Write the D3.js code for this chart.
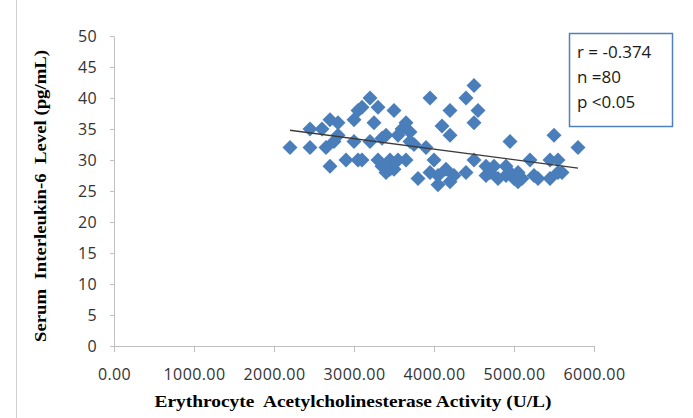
<!DOCTYPE html>
<html>
<head>
<meta charset="utf-8">
<script src="https://cdn.jsdelivr.net/npm/d3@7"></script>
<style>
  body { margin: 0; background: #fff; }
  svg { display: block; }
</style>
</head>
<body>
<div id="chart"></div>
<script>
// Erythrocyte AChE activity (U/L) vs serum IL-6 (pg/mL)
const aChE = [
  2200, 2450, 2450, 2600, 2650, 2700, 2700, 2750, 2800, 2800,
  2900, 3000, 3000, 3050, 3050, 3100, 3200, 3200, 3250, 3300,
  3300, 3350, 3350, 3400, 3400, 3450, 3450, 3500, 3550, 3550,
  3600, 3650, 3650, 3700, 3700, 3750, 3800, 3900, 3950, 3950,
  4000, 4050, 4050, 4100, 4150, 4200, 4200, 4200, 4250, 4400,
  4400, 4500, 4500, 4500, 4550, 4650, 4650, 4700, 4750, 4800,
  4900, 4950, 4950, 5000, 5050, 5050, 5100, 5200, 5250, 5300,
  5450, 5450, 5500, 5550, 5550, 5600, 5800, 3100, 3500, 4900
];
const il6 = [
  32, 32, 35, 35, 32, 36.5, 29, 33, 34, 36,
  30, 36.5, 33, 38, 30, 38.5, 40, 33, 36, 38.5,
  30, 33.5, 29, 34, 28, 30, 28.5, 38, 34, 30,
  35, 36, 30, 34.5, 33, 32.5, 27, 32, 40, 28,
  30, 27.5, 26, 35.5, 28.5, 34, 38, 26.5, 27.5, 40,
  28, 42, 36, 30, 38, 29, 27.5, 28, 29, 27,
  27.5, 33, 28, 27, 28, 26.5, 27, 30, 27.5, 27,
  30, 27, 34, 30, 28, 28, 32, 30, 28.5, 29
];

// Linear trendline end points (x, y)
const trendX = [2200, 5800];
const trendY = [34.8, 28.7];

const xTicks = [0, 1000, 2000, 3000, 4000, 5000, 6000];
const yTicks = [0, 5, 10, 15, 20, 25, 30, 35, 40, 45, 50];

const statLines = ["r = -0.374", "n =80", "p <0.05"];

const xTitle = "Erythrocyte  Acetylcholinesterase Activity (U/L)";
const yTitle = "Serum  Interleukin-6  Level (pg/mL)";

const width = 693;
const height = 418;
const plot = { left: 114, right: 594, top: 36, bottom: 346 };

const svg = d3.select("#chart")
  .append("svg")
  .attr("width", width)
  .attr("height", height);

// thin frame line on the left edge of the chart area
svg.append("line")
  .attr("x1", 16.5).attr("x2", 16.5)
  .attr("y1", 0).attr("y2", height)
  .attr("stroke", "#d0d0d0")
  .attr("stroke-width", 1);

const xScale = d3.scaleLinear().domain([0, 6000]).range([plot.left, plot.right]);
const yScale = d3.scaleLinear().domain([0, 50]).range([plot.bottom, plot.top]);

const tickFont = "'Open Sans', 'Liberation Sans', sans-serif";

// axes
const xAxis = d3.axisBottom(xScale)
  .tickValues(xTicks)
  .tickFormat(d3.format(".2f"))
  .tickSize(6)
  .tickSizeOuter(0);

const yAxis = d3.axisLeft(yScale)
  .tickValues(yTicks)
  .tickFormat(d3.format("d"))
  .tickSize(4)
  .tickSizeOuter(0);

const gx = svg.append("g")
  .attr("transform", `translate(0, ${plot.bottom})`)
  .call(xAxis);

const gy = svg.append("g")
  .attr("transform", `translate(${plot.left}, 0)`)
  .call(yAxis);

[gx, gy].forEach(g => {
  g.select(".domain").attr("stroke", "#bfbfbf").attr("stroke-width", 1);
  g.selectAll(".tick line").attr("stroke", "#bfbfbf");
  g.selectAll(".tick text")
    .attr("fill", "#333")
    .style("font-family", tickFont)
    .style("font-size", "16px")
    .style("letter-spacing", "0.4px");
});

gx.selectAll(".tick text").attr("y", 34).attr("dy", 0);
gy.selectAll(".tick text").attr("x", -17).attr("dy", "0.35em");

// axis titles
svg.append("text")
  .attr("x", 353)
  .attr("y", 407)
  .attr("text-anchor", "middle")
  .style("font-family", "'Liberation Serif', 'Times New Roman', serif")
  .style("font-weight", "bold")
  .style("font-size", "17px")
  .style("white-space", "pre")
  .attr("textLength", 397)
  .attr("lengthAdjust", "spacingAndGlyphs")
  .text(xTitle);

svg.append("text")
  .attr("transform", "translate(46, 196) rotate(-90)")
  .attr("text-anchor", "middle")
  .style("font-family", "'Liberation Serif', 'Times New Roman', serif")
  .style("font-weight", "bold")
  .style("font-size", "16px")
  .style("white-space", "pre")
  .attr("textLength", 292)
  .attr("lengthAdjust", "spacingAndGlyphs")
  .text(yTitle);

// data points as diamonds
const points = aChE.map((x, i) => ({ x: x, y: il6[i] }));
const diamond = d3.symbol().type(d3.symbolSquare).size(112);

svg.append("g")
  .selectAll("path")
  .data(points)
  .join("path")
  .attr("d", diamond)
  .attr("transform", d => `translate(${xScale(d.x)}, ${yScale(d.y)}) rotate(45)`)
  .attr("fill", "#4a7ebb");

// trendline
svg.append("line")
  .attr("x1", xScale(trendX[0]))
  .attr("y1", yScale(trendY[0]))
  .attr("x2", xScale(trendX[1]))
  .attr("y2", yScale(trendY[1]))
  .attr("stroke", "#3a3a3a")
  .attr("stroke-width", 1.3);

// stats box
svg.append("rect")
  .attr("x", 569.5)
  .attr("y", 33.5)
  .attr("width", 103)
  .attr("height", 93)
  .attr("fill", "#fff")
  .attr("stroke", "#4f81bd")
  .attr("stroke-width", 1.5);

svg.append("g")
  .selectAll("text")
  .data(statLines)
  .join("text")
  .attr("x", 577)
  .attr("y", (d, i) => 58 + i * 25)
  .attr("fill", "#1a1a1a")
  .style("font-family", tickFont)
  .style("font-size", "17px")
  .text(d => d);
</script>
</body>
</html>
